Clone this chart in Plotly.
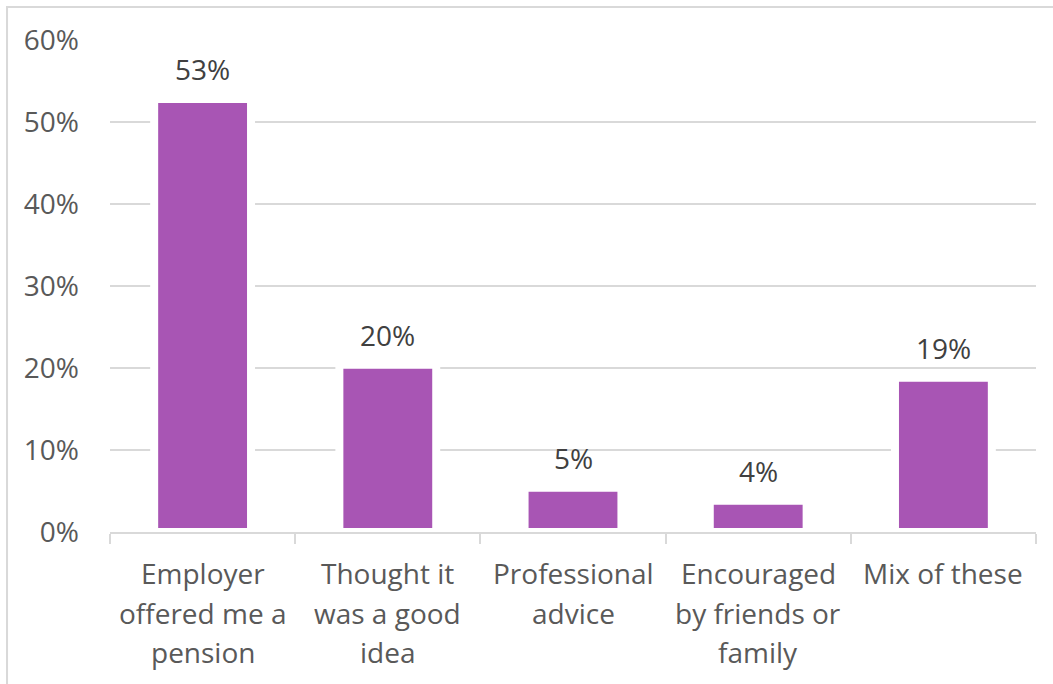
import plotly.graph_objects as go

categories = [
    "Employer<br>offered me a<br>pension",
    "Thought it<br>was a good<br>idea",
    "Professional<br>advice",
    "Encouraged<br>by friends or<br>family",
    "Mix of these",
]
shares = [52.8, 20.4, 5.4, 3.8, 18.8]
y_ticks = [0, 10, 20, 30, 40, 50, 60]
y_tick_labels = [f"{v}%" for v in y_ticks]

BAR_COLOR = "#A855B4"
GRID = "#D9D9D9"
FONT = "Open Sans"
LINE_GAP = 39.5  # px between wrapped category-label lines

fig = go.Figure(
    go.Bar(
        x=categories,
        y=shares,
        marker=dict(color=BAR_COLOR, line=dict(color="white", width=8)),
        hoverinfo="skip",
    )
)

# value labels above each bar
for cat, val in zip(categories, shares):
    fig.add_annotation(
        x=cat, y=val, text=f"{round(val)}%",
        showarrow=False, yanchor="bottom", yshift=9,
        font=dict(family=FONT, size=28, color="#404040"),
    )

# category labels, one annotation per wrapped line for looser line spacing
for cat in categories:
    for i, line in enumerate(cat.split("<br>")):
        fig.add_annotation(
            x=cat, y=0, xref="x", yref="paper", text=line,
            showarrow=False, yanchor="middle", yshift=-41 - i * LINE_GAP,
            font=dict(family=FONT, size=28, color="#595959"),
        )

# outer chart frame
fig.add_shape(
    type="rect", xref="paper", yref="paper",
    x0=-0.1112, x1=1.2, y0=-0.5, y1=1.067,
    line=dict(color=GRID, width=2), fillcolor="rgba(0,0,0,0)", layer="below",
)

fig.update_layout(
    width=1053, height=684,
    margin=dict(l=110, r=17, t=40, b=152),
    paper_bgcolor="white", plot_bgcolor="white",
    bargap=0.477,
    showlegend=False,
    font=dict(family=FONT, size=28, color="#595959"),
)
fig.update_xaxes(
    type="category",
    showgrid=False,
    showline=True, linecolor=GRID, linewidth=2,
    ticks="outside", tickson="boundaries", ticklen=10, tickcolor=GRID, tickwidth=2,
    showticklabels=False,
)
fig.update_yaxes(
    range=[0, 60],
    tickmode="array", tickvals=y_ticks, ticktext=y_tick_labels,
    showgrid=True, gridcolor=GRID, gridwidth=2,
    zeroline=False, showline=False,
    tickfont=dict(family=FONT, size=28, color="#595959"),
    ticklabelstandoff=30,
)

fig.write_html("out.html")
